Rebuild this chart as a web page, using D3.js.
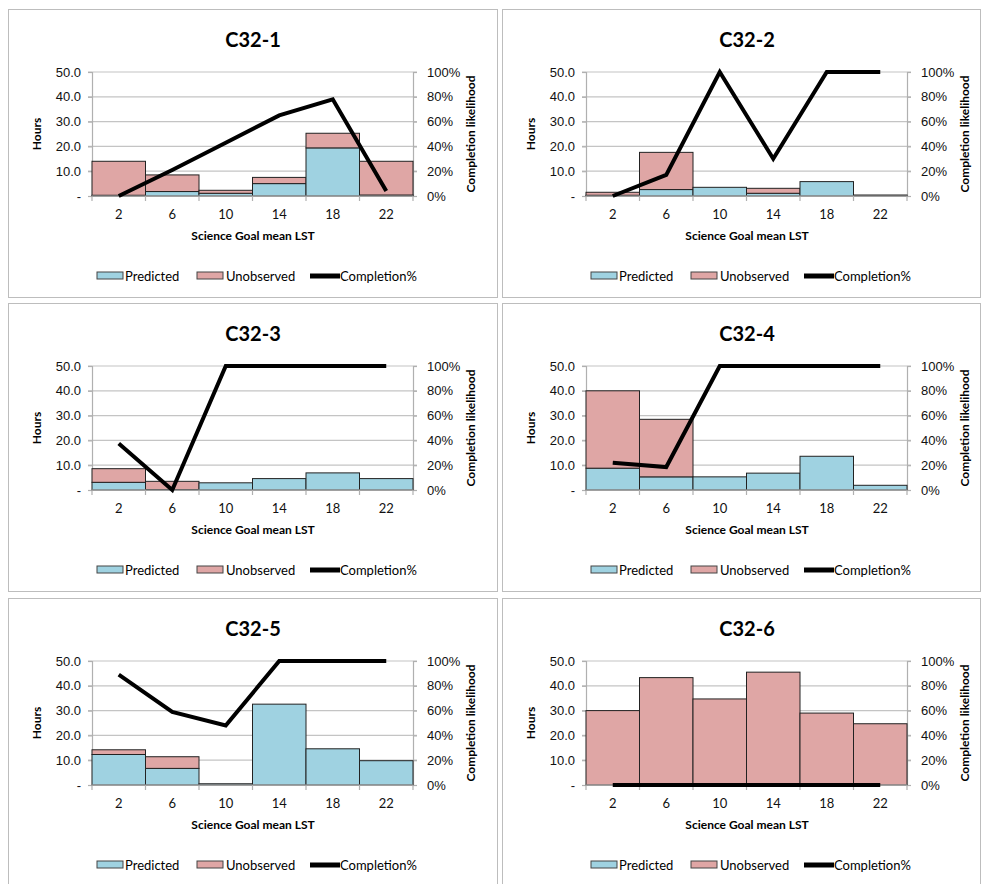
<!DOCTYPE html>
<html>
<head>
<meta charset="utf-8">
<script src="https://cdn.jsdelivr.net/npm/d3@7/dist/d3.min.js"></script>
<style>
  body { margin: 0; background: #fff; }
  svg { font-family: Lato, "Open Sans", sans-serif; }
</style>
</head>
<body>
<svg width="982" height="884"></svg>
<script>
// data
var categories = [2, 6, 10, 14, 18, 22];
var panelTitles = ["C32-1", "C32-2", "C32-3", "C32-4", "C32-5", "C32-6"];
var predicted = [
  [0.3, 1.8, 1.1, 5.0, 19.4, 0.4],
  [0.3, 2.6, 3.5, 1.1, 5.8, 0.4],
  [3.1, 0.2, 2.9, 4.6, 6.9, 4.6],
  [8.8, 5.3, 5.3, 6.8, 13.6, 1.9],
  [12.3, 6.7, 0.5, 32.6, 14.6, 9.8],
  [0, 0, 0, 0, 0, 0]
];
var unobserved = [
  [13.7, 6.7, 1.2, 2.5, 5.9, 13.6],
  [1.2, 15.0, 0, 2.0, 0, 0],
  [5.5, 3.3, 0, 0, 0, 0],
  [31.2, 23.2, 0, 0, 0, 0],
  [1.9, 4.7, 0, 0, 0, 0],
  [30.0, 43.3, 34.7, 45.5, 29.0, 24.7]
];
var completion = [
  [0, 21, 43, 65, 78, 4],
  [0, 17, 100, 30, 100, 100],
  [37.5, 0, 100, 100, 100, 100],
  [22, 18.5, 100, 100, 100, 100],
  [89, 59, 48, 100, 100, 100],
  [0, 0, 0, 0, 0, 0]
];
var hourTicks = [0, 10, 20, 30, 40, 50];
var pctTicks = [0, 20, 40, 60, 80, 100];
var legendLabels = ["Predicted", "Unobserved", "Completion%"];

var colPred = "#9fd2e1", colUnob = "#dfa6a5";
var svg = d3.select("svg");

var panelX = [8, 502], panelW = [490, 479];
var panelY = [9, 303, 598], panelH = 289;
var plotL = 84, plotR = 405, plotT = 63, plotB = 187;

function drawPanel(p) {
  var col = p % 2, row = Math.floor(p / 2);
  var g = svg.append("g").attr("transform", "translate(" + panelX[col] + "," + panelY[row] + ")");

  g.append("rect").attr("x", 0.5).attr("y", 0.5)
    .attr("width", panelW[col] - 1).attr("height", panelH - 1)
    .attr("fill", "#fff").attr("stroke", "#bdbdbd").attr("stroke-width", 1);

  g.append("text").attr("x", 245).attr("y", 38).attr("text-anchor", "middle")
    .attr("font-size", 20).attr("font-weight", "bold").text(panelTitles[p]);

  var x = d3.scaleBand().domain(categories).range([plotL, plotR]).padding(0);
  var y = d3.scaleLinear().domain([0, 50]).range([plotB, plotT]);
  var y2 = d3.scaleLinear().domain([0, 100]).range([plotB, plotT]);

  // gridlines
  g.append("g").selectAll("line").data(hourTicks.slice(1)).join("line")
    .attr("x1", plotL - 4).attr("x2", plotR + 4)
    .attr("y1", function(d) { return y(d); }).attr("y2", function(d) { return y(d); })
    .attr("stroke", "#c4c4c4").attr("stroke-width", 1.2);

  // left axis
  var ax = g.append("g").attr("transform", "translate(" + plotL + ",0)")
    .call(d3.axisLeft(y).tickValues(hourTicks).tickSize(4).tickPadding(7)
      .tickFormat(function(d) { return d === 0 ? "-" : d3.format(".1f")(d); }));
  ax.selectAll("text").attr("font-size", 13).attr("fill", "#111");
  ax.selectAll("line, path").attr("stroke", "#b0b0b0").attr("stroke-width", 1.2);

  // right axis
  var ax2 = g.append("g").attr("transform", "translate(" + plotR + ",0)")
    .call(d3.axisRight(y2).tickValues(pctTicks).tickSize(4).tickPadding(10)
      .tickFormat(function(d) { return d + "%"; }));
  ax2.selectAll("text").attr("font-size", 13).attr("fill", "#111");
  ax2.selectAll("line, path").attr("stroke", "#b0b0b0").attr("stroke-width", 1.2);

  // stacked bars
  var bars = g.append("g");
  categories.forEach(function(c, i) {
    var pv = predicted[p][i], uv = unobserved[p][i];
    if (pv > 0) {
      bars.append("rect").attr("x", x(c)).attr("width", x.bandwidth())
        .attr("y", y(pv)).attr("height", y(0) - y(pv))
        .attr("fill", colPred).attr("stroke", "#222").attr("stroke-width", 1);
    }
    if (uv > 0) {
      bars.append("rect").attr("x", x(c)).attr("width", x.bandwidth())
        .attr("y", y(pv + uv)).attr("height", y(pv) - y(pv + uv))
        .attr("fill", colUnob).attr("stroke", "#222").attr("stroke-width", 1);
    }
  });

  // x axis (ticks at boundaries)
  var xl = g.append("g").attr("transform", "translate(0," + plotB + ")");
  xl.append("line").attr("x1", plotL).attr("x2", plotR).attr("stroke", "#b0b0b0").attr("stroke-width", 1.2);
  xl.selectAll(".tk").data(categories.concat(["end"])).join("line").attr("class", "tk")
    .attr("x1", function(d, i) { return i < categories.length ? x(d) : plotR; })
    .attr("x2", function(d, i) { return i < categories.length ? x(d) : plotR; })
    .attr("y1", 0).attr("y2", 5).attr("stroke", "#b0b0b0").attr("stroke-width", 1.2);
  xl.selectAll("text").data(categories).join("text")
    .attr("x", function(d) { return x(d) + x.bandwidth() / 2; }).attr("y", 23)
    .attr("text-anchor", "middle").attr("font-size", 13).attr("fill", "#111").text(function(d) { return d; });

  // completion line
  var line = d3.line()
    .x(function(d, i) { return x(categories[i]) + x.bandwidth() / 2; })
    .y(function(d) { return y2(d); });
  g.append("path").datum(completion[p]).attr("d", line)
    .attr("fill", "none").attr("stroke", "#000").attr("stroke-width", 4)
    .attr("stroke-linejoin", "miter");

  // axis titles
  g.append("text").attr("x", 245).attr("y", 231).attr("text-anchor", "middle")
    .attr("font-size", 12).attr("font-weight", "bold").text("Science Goal mean LST");
  g.append("text").attr("transform", "translate(33," + ((plotT + plotB) / 2) + ") rotate(-90)")
    .attr("text-anchor", "middle").attr("font-size", 12).attr("font-weight", "bold").text("Hours");
  g.append("text").attr("transform", "translate(467," + ((plotT + plotB) / 2) + ") rotate(-90)")
    .attr("text-anchor", "middle").attr("font-size", 12).attr("font-weight", "bold").text("Completion likelihood");

  // legend
  var lg = g.append("g").attr("transform", "translate(0,267)");
  lg.append("rect").attr("x", 89).attr("y", -4).attr("width", 26).attr("height", 7)
    .attr("fill", colPred).attr("stroke", "#444");
  lg.append("text").attr("x", 117).attr("y", 5).attr("font-size", 13).text(legendLabels[0]);
  lg.append("rect").attr("x", 189).attr("y", -4).attr("width", 26).attr("height", 7)
    .attr("fill", colUnob).attr("stroke", "#444");
  lg.append("text").attr("x", 218).attr("y", 5).attr("font-size", 13).text(legendLabels[1]);
  lg.append("line").attr("x1", 302).attr("x2", 332).attr("y1", 0).attr("y2", 0)
    .attr("stroke", "#000").attr("stroke-width", 5);
  lg.append("text").attr("x", 332).attr("y", 5).attr("font-size", 13).text(legendLabels[2]);
}

for (var p = 0; p < panelTitles.length; p++) drawPanel(p);
</script>
</body>
</html>
